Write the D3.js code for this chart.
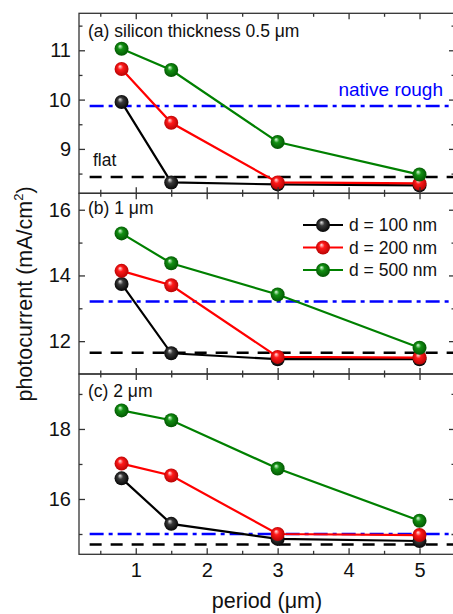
<!DOCTYPE html>
<html>
<head>
<meta charset="utf-8">
<script src="https://cdn.jsdelivr.net/npm/d3@7"></script>
<style>
  body { margin: 0; background: #fff; }
  text { font-family: "Liberation Sans", Arial, sans-serif; }
</style>
</head>
<body>
<script>
// Data
var periods = [0.8, 1.5, 3, 5];
var seriesNames = ["d = 100 nm", "d = 200 nm", "d = 500 nm"];

// (a) silicon thickness 0.5 um
var a100 = [9.95, 8.32, 8.28, 8.26];
var a200 = [10.62, 9.53, 8.32, 8.30];
var a500 = [11.03, 10.60, 9.14, 8.48];
var aRefs = [9.87, 8.43];   // native rough, flat

// (b) 1 um
var b100 = [13.74, 11.63, 11.45, 11.45];
var b200 = [14.14, 13.70, 11.52, 11.50];
var b500 = [15.28, 14.37, 13.42, 11.80];
var bRefs = [13.21, 11.65];

// (c) 2 um
var c100 = [16.59, 15.29, 14.86, 14.80];
var c200 = [17.01, 16.67, 15.00, 14.97];
var c500 = [18.53, 18.25, 16.87, 15.38];
var cRefs = [15.00, 14.70];

var xMajor = [1, 2, 3, 4, 5];
var xMinor = [0.5, 1.5, 2.5, 3.5, 4.5];
var refSpan = [0.35, 5.5];

// Layout
var svgWidth = 453;
var svgHeight = 614;
var left = 79, right = 455;
var colors = ["#000000", "#ff0000", "#008000"];
var ballStops = [
  ["#e8e8e8", "#3a3a3a", "#000000"],
  ["#ffe8e8", "#ff1a1a", "#b00000"],
  ["#e0ffe0", "#139013", "#005000"]
];

var panels = [
  { label: "(a) silicon thickness 0.5 \u03bcm", top: 13.3, bottom: 193.3, domain: [8.1, 11.75],
    major: [9, 10, 11], minor: [8.5, 9.5, 10.5, 11.5], series: [a100, a200, a500], refs: aRefs, labelY: 36.7 },
  { label: "(b) 1 \u03bcm", top: 193.3, bottom: 374, domain: [11, 16.5],
    major: [12, 14, 16], minor: [13, 15], series: [b100, b200, b500], refs: bRefs, labelY: 214.3 },
  { label: "(c) 2 \u03bcm", top: 374, bottom: 554.3, domain: [14.42, 19.57],
    major: [16, 18], minor: [15, 17, 19], series: [c100, c200, c500], refs: cRefs, labelY: 396.7 }
];

var svg = d3.select("body")
  .append("svg")
  .attr("width", svgWidth)
  .attr("height", svgHeight);

// sphere-like marker gradients
var defs = svg.append("defs");
ballStops.forEach(function(st, i) {
  var g = defs.append("radialGradient")
    .attr("id", "ball" + i)
    .attr("cx", "50%").attr("cy", "50%").attr("r", "55%")
    .attr("fx", "38%").attr("fy", "30%");
  g.append("stop").attr("offset", "0%").attr("stop-color", st[0]);
  g.append("stop").attr("offset", "35%").attr("stop-color", st[1]);
  g.append("stop").attr("offset", "100%").attr("stop-color", st[2]);
});

var x = d3.scaleLinear().domain([0.2, 5.5]).range([left, right]);

function styleAxis(g) {
  g.select(".domain").remove();
  g.selectAll(".tick line").attr("stroke", "#333").attr("stroke-width", 1.3);
  g.selectAll(".tick text")
    .attr("font-family", "'Liberation Sans', Arial, sans-serif")
    .attr("font-size", 20)
    .attr("fill", "#111");
}

panels.forEach(function(p, pi) {
  var y = d3.scaleLinear().domain(p.domain).range([p.bottom, p.top]);
  var g = svg.append("g");

  // reference lines: native rough (blue dash-dot), flat (black dashed)
  g.append("line")
    .attr("x1", x(refSpan[0])).attr("x2", x(refSpan[1]))
    .attr("y1", y(p.refs[0])).attr("y2", y(p.refs[0]))
    .attr("stroke", "#0000ff").attr("stroke-width", 2.5)
    .attr("stroke-dasharray", "14,5,4,5");
  g.append("line")
    .attr("x1", x(refSpan[0])).attr("x2", x(refSpan[1]))
    .attr("y1", y(p.refs[1])).attr("y2", y(p.refs[1]))
    .attr("stroke", "#000").attr("stroke-width", 2.5)
    .attr("stroke-dasharray", "12,9");

  // series
  var line = d3.line()
    .x(function(d, i) { return x(periods[i]); })
    .y(function(d) { return y(d); });

  p.series.forEach(function(vals, si) {
    g.append("path")
      .datum(vals)
      .attr("d", line)
      .attr("fill", "none")
      .attr("stroke", colors[si])
      .attr("stroke-width", 2.2);
    g.selectAll("circle.s" + si)
      .data(vals)
      .enter()
      .append("circle")
      .attr("class", "s" + si)
      .attr("cx", function(d, i) { return x(periods[i]); })
      .attr("cy", function(d) { return y(d); })
      .attr("r", 7)
      .attr("fill", "url(#ball" + si + ")");
  });

  // frame
  g.append("rect")
    .attr("x", left).attr("y", p.top)
    .attr("width", right - left).attr("height", p.bottom - p.top)
    .attr("fill", "none").attr("stroke", "#333").attr("stroke-width", 1.3);

  // y axes (ticks inward on both sides)
  g.append("g").attr("transform", "translate(" + left + ",0)")
    .call(d3.axisLeft(y).tickValues(p.major).tickSize(-6).tickPadding(8).tickFormat(d3.format("d")))
    .call(styleAxis);
  g.append("g").attr("transform", "translate(" + left + ",0)")
    .call(d3.axisLeft(y).tickValues(p.minor).tickSize(-3.5).tickFormat(""))
    .call(styleAxis);
  g.append("g").attr("transform", "translate(" + right + ",0)")
    .call(d3.axisRight(y).tickValues(p.major).tickSize(-6).tickFormat(""))
    .call(styleAxis);
  g.append("g").attr("transform", "translate(" + right + ",0)")
    .call(d3.axisRight(y).tickValues(p.minor).tickSize(-3.5).tickFormat(""))
    .call(styleAxis);

  // x axes (top and bottom, inward)
  var isLast = pi === panels.length - 1;
  g.append("g").attr("transform", "translate(0," + p.bottom + ")")
    .call(d3.axisBottom(x).tickValues(xMajor).tickSize(-6).tickPadding(9)
      .tickFormat(isLast ? d3.format("d") : ""))
    .call(styleAxis);
  g.append("g").attr("transform", "translate(0," + p.bottom + ")")
    .call(d3.axisBottom(x).tickValues(xMinor).tickSize(-3.5).tickFormat(""))
    .call(styleAxis);
  g.append("g").attr("transform", "translate(0," + p.top + ")")
    .call(d3.axisTop(x).tickValues(xMajor).tickSize(-6).tickFormat(""))
    .call(styleAxis);
  g.append("g").attr("transform", "translate(0," + p.top + ")")
    .call(d3.axisTop(x).tickValues(xMinor).tickSize(-3.5).tickFormat(""))
    .call(styleAxis);

  // panel label
  g.append("text")
    .attr("x", 88).attr("y", p.labelY)
    .attr("font-size", 17.5).attr("fill", "#111")
    .text(p.label);
});

// annotations in panel (a)
svg.append("text")
  .attr("x", 443).attr("y", 95.5)
  .attr("text-anchor", "end")
  .attr("font-size", 19).attr("fill", "#0000ff")
  .text("native rough");
svg.append("text")
  .attr("x", 93).attr("y", 166)
  .attr("font-size", 17.5).attr("fill", "#111")
  .text("flat");

// legend in panel (b)
var legend = svg.append("g");
seriesNames.forEach(function(name, i) {
  var ly = 225 + i * 22.5;
  legend.append("line")
    .attr("x1", 303).attr("x2", 343).attr("y1", ly).attr("y2", ly)
    .attr("stroke", colors[i]).attr("stroke-width", 2.2);
  legend.append("circle")
    .attr("cx", 323).attr("cy", ly).attr("r", 7)
    .attr("fill", "url(#ball" + i + ")");
  legend.append("text")
    .attr("x", 349).attr("y", ly + 6.3)
    .attr("font-size", 17.5).attr("fill", "#111")
    .text(name);
});

// axis titles
svg.append("text")
  .attr("x", 267).attr("y", 608)
  .attr("text-anchor", "middle")
  .attr("font-size", 21.5).attr("fill", "#111")
  .text("period (\u03bcm)");

var yTitle = svg.append("text")
  .attr("transform", "translate(32,294) rotate(-90)")
  .attr("text-anchor", "middle")
  .attr("font-size", 21.5).attr("fill", "#111");
yTitle.append("tspan").text("photocurrent (mA/cm");
yTitle.append("tspan").attr("font-size", 13).attr("dy", -9).text("2");
yTitle.append("tspan").attr("dy", 9).text(")");
</script>
</body>
</html>
